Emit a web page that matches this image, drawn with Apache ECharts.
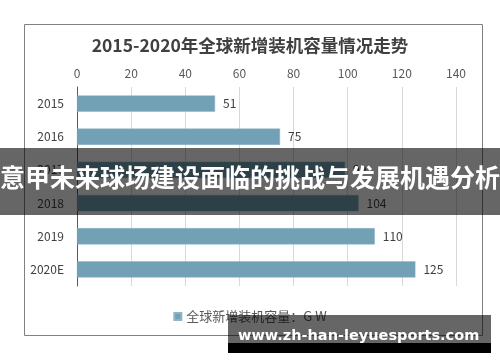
<!DOCTYPE html>
<html>
<head>
<meta charset="utf-8">
<script src="https://cdn.jsdelivr.net/npm/echarts@6/dist/echarts.min.js"></script>
<style>html,body{margin:0;padding:0;background:#fff;}#c{width:500px;height:362px;}</style>
</head>
<body>
<div id="c"></div>
<script>
var titleText = '2015-2020年全球新增装机容量情况走势';
var categories = ['2015', '2016', '2017', '2018', '2019', '2020E'];
var values = [51, 75, 99, 104, 110, 125];
var seriesName = '全球新增装机容量：G W';
var axisTicks = [0, 20, 40, 60, 80, 100, 120, 140];
var bannerText = '意甲未来球场建设面临的挑战与发展机遇分析';
var watermarkText = 'www.zh-han-leyuesports.com';

var cjk = '"Noto Sans CJK SC", "Noto Sans", sans-serif';
var chart = echarts.init(document.getElementById('c'), null, {renderer: 'canvas'});
chart.setOption({
  animation: false,
  backgroundColor: '#fff',
  title: {
    text: titleText,
    left: 'center',
    top: 32,
    textStyle: {fontFamily: cjk, fontSize: 17.5, fontWeight: 'bold', color: '#404040'}
  },
  legend: {
    data: [seriesName],
    left: 'center',
    top: 305,
    icon: 'rect',
    itemWidth: 7,
    itemHeight: 7,
    itemGap: 4,
    textStyle: {fontFamily: cjk, fontSize: 13, color: '#595959'}
  },
  grid: {left: 77, right: 44, top: 87, bottom: 76, containLabel: false},
  xAxis: {
    type: 'value',
    position: 'top',
    min: axisTicks[0],
    max: axisTicks[axisTicks.length - 1],
    interval: axisTicks[1] - axisTicks[0],
    axisLine: {show: false},
    axisTick: {show: false},
    splitLine: {lineStyle: {color: '#d9d9d9', width: 1}},
    axisLabel: {fontFamily: cjk, fontSize: 12, color: '#595959', margin: 8}
  },
  yAxis: {
    type: 'category',
    inverse: true,
    data: categories,
    axisLine: {lineStyle: {color: '#595959', width: 1}},
    axisTick: {show: false},
    axisLabel: {fontFamily: cjk, fontSize: 12, color: '#404040', margin: 13}
  },
  series: [{
    name: seriesName,
    type: 'bar',
    data: values,
    barCategoryGap: '51%',
    itemStyle: {color: '#72a0b4', borderColor: '#8fb4c4', borderWidth: 0.5},
    label: {show: true, position: 'right', distance: 8, fontFamily: cjk, fontSize: 12, color: '#404040'}
  }],
  graphic: [
    {type: 'rect', left: 22, top: 22, shape: {width: 458, height: 311}, style: {fill: null, stroke: '#808080', lineWidth: 1}, z: 0, silent: true},
    {type: 'rect', left: 0, top: 148, shape: {width: 500, height: 67}, style: {fill: 'rgba(0,0,0,0.6)'}, z: 100},
    {type: 'text', left: 'center', top: 165, style: {text: bannerText, fill: '#fff', font: 'bold 25px ' + cjk}, z: 101},
    {type: 'rect', left: 228, top: 315, shape: {width: 263, height: 28}, style: {fill: 'rgba(0,0,0,0.6)'}, z: 100},
    {type: 'rect', left: 228, top: 343, shape: {width: 263, height: 10}, style: {fill: '#000'}, z: 100},
    {type: 'text', left: 238, top: 329, style: {text: watermarkText, fill: '#fff', font: 'bold 14.5px "DejaVu Sans", sans-serif'}, z: 101}
  ]
});
</script>
</body>
</html>
